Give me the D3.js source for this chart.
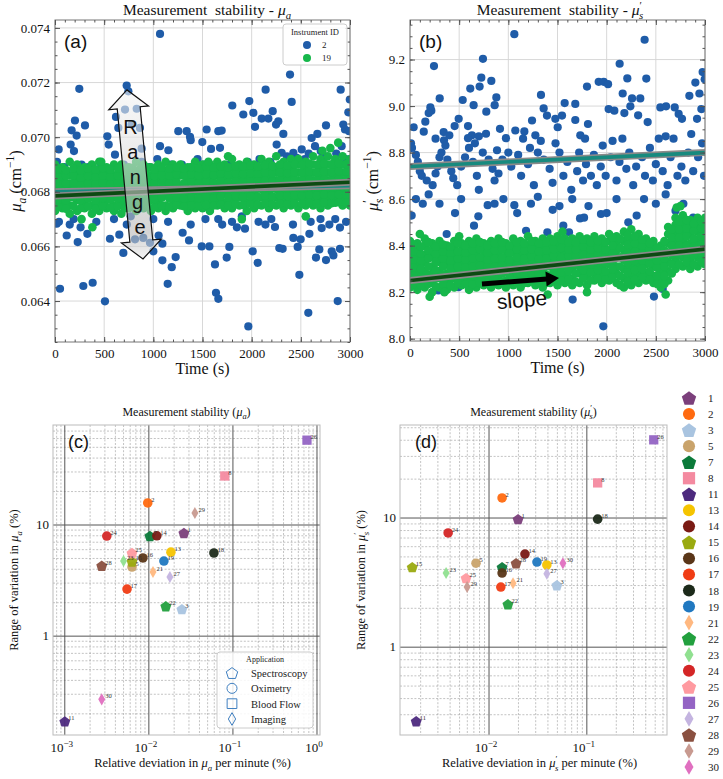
<!DOCTYPE html>
<html><head><meta charset="utf-8">
<script src="https://cdn.jsdelivr.net/npm/d3@7"></script>
<style>body{margin:0;background:#fff}</style>
</head><body>
<svg id="chart" width="723" height="779"></svg>
<script>
// ---------------- DATA ----------------
const timeTicks = [0, 500, 1000, 1500, 2000, 2500, 3000];
const instrumentIds = ["2", "19"];
// Instrument 2 (blue), mu_a over time [t (s), mu_a (cm^-1)]
const muaInstr2 = [
[1068,0.07378],[729,0.07189],[746,0.07168],[712,0.07101],[831,0.07104],[247,0.07177],[305,0.07043],[203,0.07061],[169,0.07025],[220,0.07006],
[159,0.06973],[193,0.06949],[620,0.07074],[644,0.07034],[780,0.07046],[864,0.07034],[532,0.07003],[546,0.06973],[610,0.06936],[881,0.06958],
[37,0.06955],[1068,0.06967],[1153,0.06952],[1254,0.07022],[1339,0.07022],[1373,0.07001],[1380,0.06989],[1498,0.06982],[1542,0.07028],[1587,0.06957],
[1661,0.07022],[1695,0.07024],[1678,0.06961],[1803,0.07116],[1915,0.07083],[1976,0.07132],[2017,0.07089],[2034,0.07038],[2102,0.07068],[2142,0.07174],
[2170,0.07068],[2214,0.07095],[2248,0.07046],[2271,0.07058],[2254,0.06973],[2322,0.07012],[2390,0.07229],[2407,0.07129],[2305,0.06943],[2424,0.06943],
[2458,0.06924],[2509,0.06955],[2610,0.06997],[2644,0.06967],[2668,0.07012],[2702,0.06949],[2756,0.07043],[2905,0.07174],[2932,0.07046],[2949,0.07028],
[2983,0.07091],[2998,0.07138],[2990,0.07022],[2915,0.06967],
[20,0.0691],[95,0.0689],[270,0.0690],[340,0.0689],[420,0.0688],[470,0.0690],[700,0.0690],[880,0.0691],[960,0.0689],[1180,0.0690],
[1290,0.0690],[1450,0.0692],[1520,0.0690],[1600,0.0689],[1760,0.0690],[1850,0.0689],[1960,0.0691],[2080,0.0692],[2190,0.0691],[2360,0.0693],
[2540,0.0692],[2580,0.0694],[2740,0.0693],[2860,0.0694],[2960,0.0692],[120,0.0687],[60,0.0686],[300,0.0686],[1040,0.0692],
[51,0.06445],[288,0.06455],[383,0.06467],[508,0.06399],[695,0.06576],[231,0.06616],[119,0.0664],[329,0.06646],[17,0.06683],[559,0.06628],
[654,0.06643],[814,0.06626],[898,0.06631],[1000,0.06582],[966,0.06613],[1054,0.0664],[1092,0.0661],[1092,0.06549],[1187,0.06524],[1146,0.06463],
[1227,0.06561],[1298,0.0665],[1363,0.06622],[1492,0.066],[1570,0.066],[1627,0.06534],[1637,0.0643],[1661,0.06408],[1746,0.06559],[1773,0.06598],
[2010,0.06582],[2061,0.0654],[1966,0.06307],[1932,0.06665],[2237,0.06671],[2281,0.06594],[2315,0.06591],[2424,0.06631],[2468,0.06598],[2485,0.06496],
[2498,0.06626],[2587,0.06646],[2576,0.06357],[2688,0.06589],[2654,0.06559],[2712,0.06667],[2756,0.0655],[2814,0.06582],[2831,0.06567],[2875,0.064],
[2898,0.06591],[2898,0.06669],
[40,0.0669],[150,0.0668],[190,0.0670],[260,0.0667],[420,0.0669],[600,0.0670],[730,0.0668],[770,0.0671],[1000,0.0670],[1150,0.0669],
[1380,0.0668],[1530,0.0670],[1700,0.0668],[1800,0.0669],[1850,0.0667],[2070,0.0669],[2200,0.0670],[2420,0.0668],[2600,0.0669],[2790,0.0668],
[2850,0.0670],[2960,0.0669],[1660,0.0670],[1900,0.0671],[2140,0.0668],[2700,0.0670]
];
// Instrument 19 (green), mu_a: [t, [values at that time]]
const muaInstr19 = [
[0,[0.0673,0.0676,0.0679,0.0681,0.0684,0.0687,0.0690]],[75,[0.0674,0.0676,0.0678,0.0682,0.0685,0.0687,0.0689]],
[150,[0.0672,0.0675,0.0678,0.0681,0.0683,0.0686,0.0691]],[225,[0.0673,0.0677,0.0680,0.0682,0.0685,0.0688,0.0690]],
[300,[0.0674,0.0676,0.0679,0.0681,0.0684,0.0686,0.0689]],[375,[0.0672,0.0675,0.0678,0.0682,0.0684,0.0687,0.0690]],
[450,[0.0673,0.0676,0.0679,0.0681,0.0685,0.0688,0.0691]],[525,[0.0674,0.0677,0.0680,0.0682,0.0684,0.0687,0.0689]],
[600,[0.0673,0.0675,0.0678,0.0681,0.0684,0.0686,0.0690]],[675,[0.0672,0.0676,0.0679,0.0682,0.0685,0.0688,0.0690]],
[750,[0.0674,0.0677,0.0679,0.0681,0.0684,0.0687,0.0689]],[825,[0.0673,0.0675,0.0678,0.0682,0.0685,0.0687,0.0691]],
[900,[0.0674,0.0676,0.0680,0.0683,0.0685,0.0688,0.0690]],[975,[0.0673,0.0677,0.0679,0.0682,0.0684,0.0686,0.0689]],
[1050,[0.0674,0.0676,0.0678,0.0681,0.0685,0.0688,0.0690]],[1125,[0.0673,0.0675,0.0679,0.0682,0.0684,0.0687,0.0691]],
[1200,[0.0674,0.0677,0.0680,0.0683,0.0685,0.0688,0.0690]],[1275,[0.0675,0.0677,0.0679,0.0682,0.0686,0.0688,0.0690]],
[1350,[0.0673,0.0676,0.0679,0.0681,0.0684,0.0687,0.0689]],[1425,[0.0674,0.0677,0.0680,0.0683,0.0685,0.0688,0.0691]],
[1500,[0.0674,0.0676,0.0679,0.0682,0.0684,0.0687,0.0690]],[1575,[0.0673,0.0677,0.0680,0.0682,0.0685,0.0688,0.0690]],
[1650,[0.0675,0.0677,0.0679,0.0683,0.0686,0.0688,0.0691]],[1725,[0.0674,0.0676,0.0680,0.0682,0.0685,0.0687,0.0690]],
[1800,[0.0674,0.0677,0.0680,0.0683,0.0686,0.0689,0.0692]],[1875,[0.0675,0.0678,0.0680,0.0682,0.0685,0.0688,0.0690]],
[1950,[0.0673,0.0676,0.0679,0.0683,0.0686,0.0689,0.0691]],[2025,[0.0674,0.0677,0.0680,0.0683,0.0685,0.0688,0.0690]],
[2100,[0.0675,0.0678,0.0681,0.0684,0.0686,0.0689,0.0692]],[2175,[0.0674,0.0677,0.0680,0.0682,0.0685,0.0688,0.0691]],
[2250,[0.0675,0.0678,0.0681,0.0684,0.0687,0.0689,0.0693]],[2325,[0.0674,0.0677,0.0680,0.0683,0.0686,0.0688,0.0691]],
[2400,[0.0675,0.0677,0.0680,0.0683,0.0686,0.0689,0.0692]],[2475,[0.0674,0.0678,0.0681,0.0684,0.0687,0.0690,0.0692]],
[2550,[0.0675,0.0677,0.0680,0.0683,0.0685,0.0688,0.0691]],[2625,[0.0675,0.0678,0.0681,0.0684,0.0687,0.0690,0.0693]],
[2700,[0.0674,0.0677,0.0680,0.0683,0.0686,0.0689,0.0692]],[2775,[0.0675,0.0678,0.0681,0.0684,0.0687,0.0690,0.0693]],
[2850,[0.0676,0.0678,0.0681,0.0684,0.0686,0.0689,0.0692]],[2925,[0.0675,0.0678,0.0681,0.0684,0.0687,0.0690,0.0693]],
[3000,[0.0675,0.0677,0.0680,0.0683,0.0686,0.0689,0.0692]],
[37,[0.06745,0.06772,0.06801,0.06828,0.06855,0.06884]],[112,[0.06738,0.06768,0.06796,0.06830,0.06858,0.06880]],
[187,[0.06748,0.06779,0.06805,0.06833,0.06861,0.06886]],[262,[0.06741,0.06770,0.06798,0.06826,0.06852,0.06879]],
[337,[0.06746,0.06776,0.06803,0.06831,0.06858,0.06885]],[412,[0.06739,0.06769,0.06799,0.06829,0.06856,0.06882]],
[487,[0.06748,0.06777,0.06804,0.06832,0.06859,0.06887]],[562,[0.06743,0.06772,0.06800,0.06827,0.06855,0.06881]],
[637,[0.06746,0.06775,0.06803,0.06833,0.06860,0.06886]],[712,[0.06740,0.06771,0.06798,0.06828,0.06854,0.06880]],
[787,[0.06749,0.06778,0.06806,0.06834,0.06861,0.06888]],[862,[0.06744,0.06773,0.06801,0.06830,0.06857,0.06884]],
[937,[0.06750,0.06779,0.06807,0.06835,0.06862,0.06889]],[1012,[0.06745,0.06774,0.06802,0.06831,0.06858,0.06883]],
[1087,[0.06749,0.06778,0.06805,0.06833,0.06861,0.06888]],[1162,[0.06746,0.06776,0.06804,0.06832,0.06859,0.06886]],
[1237,[0.06752,0.06781,0.06808,0.06836,0.06863,0.06890]],[1312,[0.06747,0.06775,0.06803,0.06831,0.06860,0.06885]],
[1387,[0.06751,0.06780,0.06808,0.06837,0.06864,0.06891]],[1462,[0.06749,0.06777,0.06805,0.06834,0.06861,0.06887]],
[1537,[0.06752,0.06782,0.06810,0.06838,0.06865,0.06892]],[1612,[0.06750,0.06779,0.06807,0.06835,0.06862,0.06889]],
[1687,[0.06754,0.06783,0.06811,0.06839,0.06866,0.06893]],[1762,[0.06751,0.06780,0.06808,0.06836,0.06864,0.06890]],
[1837,[0.06755,0.06784,0.06812,0.06840,0.06867,0.06895]],[1912,[0.06752,0.06781,0.06810,0.06838,0.06865,0.06892]],
[1987,[0.06756,0.06785,0.06813,0.06841,0.06868,0.06896]],[2062,[0.06753,0.06782,0.06811,0.06839,0.06866,0.06893]],
[2137,[0.06757,0.06786,0.06814,0.06842,0.06870,0.06898]],[2212,[0.06754,0.06783,0.06812,0.06840,0.06868,0.06895]],
[2287,[0.06758,0.06787,0.06815,0.06844,0.06871,0.06900]],[2362,[0.06755,0.06785,0.06813,0.06841,0.06869,0.06896]],
[2437,[0.06759,0.06788,0.06817,0.06845,0.06873,0.06901]],[2512,[0.06756,0.06786,0.06814,0.06843,0.06870,0.06898]],
[2587,[0.06760,0.06789,0.06818,0.06846,0.06874,0.06903]],[2662,[0.06757,0.06787,0.06815,0.06844,0.06872,0.06899]],
[2737,[0.06761,0.06790,0.06819,0.06847,0.06875,0.06904]],[2812,[0.06758,0.06788,0.06817,0.06845,0.06873,0.06901]],
[2887,[0.06762,0.06791,0.06820,0.06848,0.06876,0.06905]],[2962,[0.06759,0.06789,0.06818,0.06846,0.06874,0.06902]],
[2880,[0.0698]],[2800,[0.0696]],[2720,[0.0695]],[1560,[0.0691]],[1760,[0.0693]],[380,[0.0667]],[470,[0.0691]],[270,[0.0670]],[1900,[0.0670]],[2550,[0.0671]]
];
// Instrument 2 (blue), mu_s' over time
const musInstr2 = [
[1061,9.309],[2386,9.285],[244,9.172],[742,9.203],[725,9.122],[708,9.084],[827,9.108],[613,9.075],[302,9.033],[207,8.994],
[217,8.98],[190,8.97],[536,9.026],[647,9.004],[878,9.037],[861,9.004],[776,8.976],[773,8.881],[156,8.933],[37,8.909],
[140,8.89],[342,8.888],[400,8.874],[454,8.914],[346,8.853],[590,8.914],[495,8.945],[630,8.874],[590,8.862],[660,8.84],
[885,8.81],[915,8.902],[976,8.862],[1071,8.895],[1163,8.891],[1241,8.938],[1332,9.048],[1359,8.99],[1393,8.959],[1275,8.874],
[1478,8.945],[1502,8.909],[1546,8.959],[1573,9.013],[1681,9.009],[1681,8.94],[1732,8.874],[1800,9.084],[1810,8.923],[1919,9.104],
[1970,9.104],[2014,9.094],[2020,8.987],[2078,8.98],[2132,9.182],[2163,9.054],[2180,8.97],[2210,9.119],[2241,8.999],[2258,9.033],
[2342,9.033],[2320,8.96],[2403,9.118],[2417,8.931],[2546,8.994],[2604,8.999],[2692,8.994],[2732,8.966],[2766,8.945],[2841,9.044],
[2902,9.101],[2943,9.054],[2976,9.146],[2997,9.115],[2963,8.987],[2919,8.945],[2860,8.88],
[10,8.84],[20,8.82],[60,8.79],[80,8.76],[100,8.72],[120,8.70],[170,8.68],[230,8.66],[260,8.71],[280,8.74],
[300,8.78],[320,8.80],[360,8.83],[380,8.77],[420,8.72],[440,8.69],[480,8.66],[520,8.74],[560,8.78],[600,8.82],
[640,8.76],[680,8.70],[700,8.64],[740,8.80],[800,8.77],[840,8.73],[860,8.68],[900,8.71],[940,8.77],[1000,8.80],
[1030,8.74],[1100,8.79],[1130,8.70],[1200,8.75],[1220,8.82],[1260,8.66],[1300,8.80],[1330,8.85],[1360,8.77],[1420,8.73],
[1450,8.67],[1520,8.80],[1560,8.70],[1600,8.76],[1640,8.64],[1700,8.72],[1720,8.80],[1760,8.68],[1790,8.75],[1840,8.70],
[1870,8.79],[1900,8.66],[1940,8.74],[1990,8.70],[2040,8.78],[2060,8.85],[2100,8.68],[2130,8.76],[2200,8.73],[2230,8.80],
[2270,8.66],[2300,8.74],[2360,8.78],[2390,8.70],[2440,8.82],[2470,8.68],[2500,8.75],[2530,8.86],[2570,8.72],[2620,8.66],
[2650,8.78],[2680,8.86],[2720,8.70],[2760,8.74],[2800,8.68],[2830,8.80],[2880,8.72],[2930,8.78],[2970,8.84],[2990,8.70],
[1150,8.86],[1480,8.84],[1960,8.83],[2160,8.86],[700,8.87],[260,8.86],[2600,8.87],[1780,8.86],
[17,8.529],[60,8.60],[130,8.58],[190,8.62],[373,8.45],[458,8.54],[520,8.60],[651,8.486],[695,8.526],[790,8.574],
[860,8.58],[1061,8.574],[1090,8.54],[1180,8.464],[1230,8.58],[1397,8.457],[1451,8.554],[1520,8.57],[1559,8.486],[1617,8.457],
[1729,8.517],[1770,8.52],[1815,8.57],[1942,8.536],[2000,8.54],[2220,8.50],[2305,8.529],[2500,8.58],[2700,8.55],[2780,8.58],
[2880,8.52],[300,8.58],[950,8.60],[1300,8.61],[2380,8.60],[2100,8.60],[2600,8.62],[1650,8.60],
[1654,8.168],[2481,8.181],[1966,8.053],[2570,8.214],[492,8.221],[288,8.207],[2824,8.324],[2800,8.46]
];
// Instrument 19 (green), mu_s'
const musInstr19 = [
[0,[8.22,8.26,8.29,8.32,8.36,8.39,8.42]],[75,[8.21,8.25,8.28,8.32,8.35,8.38,8.41]],[150,[8.22,8.25,8.29,8.33,8.36,8.40,8.43]],
[225,[8.20,8.24,8.28,8.31,8.35,8.38,8.41]],[300,[8.22,8.26,8.29,8.33,8.36,8.39,8.42]],[375,[8.21,8.25,8.28,8.32,8.35,8.38,8.40]],
[450,[8.22,8.26,8.30,8.33,8.36,8.39,8.42]],[525,[8.23,8.26,8.29,8.32,8.35,8.38,8.41]],[600,[8.21,8.25,8.29,8.33,8.36,8.39,8.42]],
[675,[8.22,8.26,8.30,8.33,8.37,8.40,8.43]],[750,[8.23,8.26,8.29,8.32,8.35,8.38,8.41]],[825,[8.22,8.25,8.29,8.33,8.36,8.39,8.42]],
[900,[8.23,8.26,8.30,8.33,8.36,8.40,8.43]],[975,[8.22,8.25,8.29,8.32,8.35,8.38,8.41]],[1050,[8.23,8.27,8.30,8.33,8.37,8.40,8.43]],
[1125,[8.22,8.26,8.29,8.33,8.36,8.39,8.42]],[1200,[8.24,8.27,8.30,8.34,8.37,8.40,8.44]],[1275,[8.23,8.26,8.30,8.33,8.36,8.39,8.42]],
[1350,[8.22,8.26,8.29,8.33,8.36,8.40,8.43]],[1425,[8.24,8.27,8.31,8.34,8.37,8.40,8.43]],[1500,[8.23,8.27,8.30,8.33,8.37,8.41,8.44]],
[1575,[8.24,8.27,8.31,8.34,8.37,8.40,8.43]],[1650,[8.23,8.26,8.30,8.34,8.37,8.40,8.43]],[1725,[8.24,8.28,8.31,8.34,8.38,8.41,8.44]],
[1800,[8.23,8.27,8.30,8.34,8.37,8.40,8.43]],[1875,[8.25,8.28,8.31,8.35,8.38,8.41,8.44]],[1950,[8.24,8.27,8.31,8.34,8.37,8.40,8.43]],
[2025,[8.25,8.28,8.32,8.35,8.38,8.42,8.45]],[2100,[8.24,8.28,8.31,8.35,8.38,8.41,8.44]],[2175,[8.22,8.26,8.30,8.34,8.38,8.42,8.46]],
[2250,[8.23,8.27,8.31,8.35,8.39,8.43,8.47]],[2325,[8.24,8.28,8.32,8.36,8.39,8.42,8.45]],[2400,[8.25,8.28,8.32,8.35,8.38,8.41,8.43]],
[2475,[8.24,8.27,8.31,8.34,8.37,8.40,8.42]],[2550,[8.22,8.25,8.29,8.32,8.35,8.38,8.40]],[2625,[8.25,8.29,8.33,8.37,8.41,8.45,8.48]],
[2700,[8.30,8.34,8.38,8.42,8.45,8.49,8.52]],[2775,[8.31,8.35,8.38,8.42,8.46,8.49,8.53]],[2850,[8.30,8.34,8.38,8.41,8.45,8.48,8.51]],
[2925,[8.31,8.35,8.39,8.42,8.46,8.49,8.52]],[3000,[8.32,8.35,8.39,8.43,8.46,8.49,8.52]],
[37,[8.235,8.27,8.305,8.34,8.375,8.405]],[112,[8.23,8.265,8.30,8.335,8.365,8.395]],[187,[8.235,8.27,8.31,8.345,8.38,8.415]],
[262,[8.225,8.26,8.295,8.33,8.365,8.395]],[337,[8.235,8.275,8.31,8.345,8.375,8.405]],[412,[8.23,8.265,8.30,8.335,8.37,8.395]],
[487,[8.24,8.275,8.31,8.345,8.375,8.41]],[562,[8.235,8.27,8.305,8.34,8.37,8.40]],[637,[8.235,8.27,8.31,8.345,8.38,8.41]],
[712,[8.24,8.275,8.315,8.35,8.385,8.415]],[787,[8.24,8.275,8.31,8.34,8.37,8.40]],[862,[8.235,8.27,8.31,8.345,8.38,8.41]],
[937,[8.245,8.28,8.315,8.35,8.385,8.415]],[1012,[8.235,8.27,8.305,8.34,8.37,8.40]],[1087,[8.245,8.285,8.315,8.35,8.385,8.415]],
[1162,[8.24,8.275,8.31,8.345,8.38,8.41]],[1237,[8.255,8.285,8.32,8.355,8.385,8.42]],[1312,[8.24,8.28,8.315,8.345,8.375,8.41]],
[1387,[8.24,8.275,8.31,8.345,8.38,8.415]],[1462,[8.255,8.29,8.325,8.355,8.385,8.42]],[1537,[8.25,8.285,8.315,8.35,8.39,8.425]],
[1612,[8.255,8.29,8.325,8.355,8.385,8.415]],[1687,[8.245,8.28,8.32,8.355,8.385,8.415]],[1762,[8.26,8.295,8.325,8.36,8.395,8.425]],
[1837,[8.25,8.285,8.32,8.355,8.385,8.415]],[1912,[8.26,8.295,8.33,8.36,8.39,8.42]],[1987,[8.255,8.29,8.325,8.355,8.385,8.415]],
[2062,[8.265,8.30,8.335,8.365,8.40,8.435]],[2137,[8.23,8.27,8.31,8.35,8.39,8.43]],[2212,[8.245,8.285,8.325,8.365,8.405,8.445]],
[2287,[8.255,8.295,8.335,8.375,8.41,8.44]],[2362,[8.265,8.30,8.335,8.37,8.40,8.425]],[2437,[8.255,8.29,8.325,8.355,8.385,8.41]],
[2512,[8.235,8.27,8.305,8.335,8.365,8.39]],[2587,[8.235,8.27,8.31,8.345,8.38,8.42]],[2662,[8.28,8.32,8.36,8.40,8.435,8.47]],
[2737,[8.32,8.36,8.40,8.435,8.47,8.505]],[2812,[8.33,8.365,8.40,8.44,8.475,8.51]],[2887,[8.32,8.36,8.395,8.43,8.465,8.495]],
[2962,[8.33,8.37,8.405,8.44,8.475,8.505]],
[2712,[8.564]],[1550,[8.46]],[100,[8.45]],[500,[8.44]],[200,[8.18]],[350,[8.20]],[1400,[8.19]],[2600,[8.19]],[2750,[8.57]],[1800,[8.20]]
];
// linear fits [value at t=0, value at t=3000]
const fitMuaInstr2 = [0.06800, 0.06822];
const fitMuaInstr19 = [0.06785, 0.06835];
const fitMusInstr2 = [8.74, 8.80];
const fitMusInstr19 = [8.25, 8.385];
// annotations (data coordinates)
const rangeArrow = [[732, 0.07173], [895, 0.06554]];
const rangeLetters = ["R", "a", "n", "g", "e"];
const slopeArrow = [[732, 8.235], [1515, 8.261]];
const slopeText = [1139, 8.166];

// Panels (c), (d)
const deviceIds = [1,2,3,5,7,8,11,13,14,15,16,17,18,19,21,22,23,24,25,26,27,28,29,30];
const deviceShapes = ["Spectroscopy","Oximetry","Spectroscopy","Oximetry","Spectroscopy","Blood Flow","Spectroscopy","Oximetry","Oximetry","Spectroscopy",
  "Oximetry","Oximetry","Oximetry","Oximetry","Imaging","Spectroscopy","Imaging","Oximetry","Spectroscopy","Blood Flow","Imaging","Spectroscopy","Imaging","Imaging"];
const deviceColors = ["#7b3f7b","#ff6a10","#a9c4e0","#c9a36b","#0b7a3a","#f48aa0","#4d2a7e","#f5c400","#7a1a14","#9aaa10",
  "#5a3618","#f03c14","#1c2a1a","#2078c0","#ffb880","#22a03e","#90e090","#d42626","#ff9aa0","#9464c4","#c4b4e0","#8a5040","#c89a90","#e070c0"];
const muaDeviation = [0.0261,0.0097,0.0247,0.0063,0.0103,0.080,0.001,0.0183,0.01245,0.0063,0.0085,0.0055,0.0594,0.0151,0.0112,0.0159,0.0050,0.00316,0.0063,0.76,0.0178,0.00275,0.0353,0.00275];
const muaRange = [8.47,15.8,1.75,4.19,7.96,27.6,0.171,5.7,8.0,4.7,5.05,2.65,5.6,4.74,3.78,1.86,4.74,7.96,5.6,58,3.4,4.3,12.8,0.27];
const musDeviation = [0.0198,0.0136,0.0494,0.00736,0.0136,0.129,0.0018,0.039,0.0233,0.00164,0.0136,0.0132,0.129,0.0309,0.0176,0.0156,0.00364,0.00382,0.00582,0.483,0.039,0.0189,0.00597,0.0569];
const musRange = [9.8,14.3,3.02,4.47,4.17,18.7,0.267,4.33,5.26,4.17,3.75,2.92,9.8,4.56,3.13,2.15,3.75,7.66,3.43,40.3,3.7,4.47,2.92,4.47];
const applications = ["Spectroscopy","Oximetry","Blood Flow","Imaging"];

// ---------------- DRAWING ----------------
const svg = d3.select("#chart");
const SERIF = "'Liberation Serif','Times New Roman',serif";
const SANS = "'Liberation Sans','DejaVu Sans',Arial,sans-serif";
const BLUE = "#1f5ca8", GREEN = "#16b74a", TEAL = "#178a7e", DKGREEN = "#0c4a12";
const defs = svg.append("defs");

function rich(t, parts, fs){
  let cur = 0;
  parts.forEach(p => {
    const target = p.sub ? fs*0.28 : p.sup ? -fs*0.4 : 0;
    const ts = t.append("tspan").text(p.t).attr("dy", target - cur);
    if (p.i) ts.attr("font-style", "italic");
    if (p.sub || p.sup) ts.attr("font-size", fs*0.7);
    if (p.dx) ts.attr("dx", p.dx);
    cur = target;
  });
  return t;
}

function timePanel(p, id, y, yMajorN, yMinorN, fmt, blue, green, fitBlue, fitGreen){
  const x = d3.scaleLinear([0, 3000], [p.l, p.r]);
  const g = svg.append("g");
  defs.append("clipPath").attr("id", "clip" + id).append("rect")
    .attr("x", p.l).attr("y", p.t).attr("width", p.r - p.l).attr("height", p.b - p.t);
  const yMaj = y.ticks(yMajorN);
  g.append("g").selectAll("line").data(timeTicks).join("line")
    .attr("x1", d => x(d)).attr("x2", d => x(d)).attr("y1", p.t).attr("y2", p.b)
    .attr("stroke", "#d4d4d4").attr("stroke-width", 0.9);
  g.append("g").selectAll("line").data(yMaj).join("line")
    .attr("x1", p.l).attr("x2", p.r).attr("y1", d => y(d)).attr("y2", d => y(d))
    .attr("stroke", "#d4d4d4").attr("stroke-width", 0.9);
  const pts = g.append("g").attr("clip-path", `url(#clip${id})`);
  pts.append("g").selectAll("circle").data(blue).join("circle")
    .attr("cx", d => x(d[0])).attr("cy", d => y(d[1])).attr("r", 4.1).attr("fill", BLUE);
  const gflat = green.flatMap(([t, vs]) => vs.map(v => [t, v]));
  pts.append("g").selectAll("circle").data(gflat).join("circle")
    .attr("cx", d => x(d[0])).attr("cy", d => y(d[1])).attr("r", 4.3).attr("fill", GREEN);
  [[fitBlue, TEAL], [fitGreen, DKGREEN]].forEach(([f, c]) => {
    const line = d3.line().x(d => x(d[0])).y(d => y(d[1]));
    const dat = [[0, f[0]], [3000, f[1]]];
    pts.append("path").attr("d", line(dat)).attr("stroke", "#8a8a8a").attr("stroke-width", 7).attr("fill", "none");
    pts.append("path").attr("d", line(dat)).attr("stroke", c).attr("stroke-width", 3.6).attr("fill", "none");
  });
  g.append("rect").attr("x", p.l).attr("y", p.t).attr("width", p.r - p.l).attr("height", p.b - p.t)
    .attr("fill", "none").attr("stroke", "#777").attr("stroke-width", 1);
  const style = s => s.attr("font-family", SERIF).attr("font-size", 13).attr("color", "#555")
    .call(s => s.select(".domain").remove()).call(s => s.selectAll("text").attr("fill", "#111"));
  g.append("g").attr("transform", `translate(0,${p.b})`)
    .call(d3.axisBottom(x).tickValues(timeTicks).tickFormat(d3.format("d")).tickSize(-5).tickPadding(7)).call(style);
  g.append("g").attr("transform", `translate(0,${p.b})`)
    .call(d3.axisBottom(x).tickValues(x.ticks(30)).tickFormat("").tickSize(-2.5)).call(style);
  g.append("g").attr("transform", `translate(0,${p.t})`)
    .call(d3.axisTop(x).tickValues(timeTicks).tickFormat("").tickSize(-5)).call(style);
  g.append("g").attr("transform", `translate(0,${p.t})`)
    .call(d3.axisTop(x).tickValues(x.ticks(30)).tickFormat("").tickSize(-2.5)).call(style);
  g.append("g").attr("transform", `translate(${p.l},0)`)
    .call(d3.axisLeft(y).tickValues(yMaj).tickFormat(d3.format(fmt)).tickSize(-5).tickPadding(5)).call(style);
  g.append("g").attr("transform", `translate(${p.l},0)`)
    .call(d3.axisLeft(y).tickValues(y.ticks(yMinorN)).tickFormat("").tickSize(-2.5)).call(style);
  g.append("g").attr("transform", `translate(${p.r},0)`)
    .call(d3.axisRight(y).tickValues(yMaj).tickFormat("").tickSize(-5)).call(style);
  g.append("g").attr("transform", `translate(${p.r},0)`)
    .call(d3.axisRight(y).tickValues(y.ticks(yMinorN)).tickFormat("").tickSize(-2.5)).call(style);
  g.append("text").attr("x", (p.l + p.r) / 2).attr("y", p.b + 32).attr("text-anchor", "middle")
    .attr("font-family", SERIF).attr("font-size", 16).attr("fill", "#111").text("Time (s)");
  return {x, g};
}

const pA = {l:55, r:350, t:20, b:342};
const yA = d3.scaleLinear([0.0625, 0.07429], [pA.b, pA.t]);
const A = timePanel(pA, "a", yA, 6, 24, ".3f", muaInstr2, muaInstr19, fitMuaInstr2, fitMuaInstr19);
const pB = {l:410, r:705, t:20, b:341};
const yB = d3.scaleLinear([7.99, 9.37], [pB.b, pB.t]);
const B = timePanel(pB, "b", yB, 7, 28, ".1f", musInstr2, musInstr19, fitMusInstr2, fitMusInstr19);

rich(svg.append("text").attr("x", 207).attr("y", 15).attr("text-anchor", "middle")
  .attr("font-family", SERIF).attr("font-size", 15.5).attr("fill", "#111"),
  [{t:"Measurement\u00a0 stability - "}, {t:"μ", i:1}, {t:"a", i:1, sub:1}], 15.5);
rich(svg.append("text").attr("x", 560).attr("y", 15).attr("text-anchor", "middle")
  .attr("font-family", SERIF).attr("font-size", 15.5).attr("fill", "#111"),
  [{t:"Measurement\u00a0 stability - "}, {t:"μ", i:1}, {t:"′", sup:1}, {t:"s", i:1, sub:1, dx:-3}], 15.5);
rich(svg.append("text").attr("transform", "translate(21,181) rotate(-90)").attr("text-anchor", "middle")
  .attr("font-family", SERIF).attr("font-size", 16.5).attr("fill", "#111"),
  [{t:"μ", i:1}, {t:"a", i:1, sub:1}, {t:"\u00a0(cm"}, {t:"−1", sup:1}, {t:")"}], 16.5);
rich(svg.append("text").attr("transform", "translate(378,181) rotate(-90)").attr("text-anchor", "middle")
  .attr("font-family", SERIF).attr("font-size", 16.5).attr("fill", "#111"),
  [{t:"μ", i:1}, {t:"′", sup:1}, {t:"s", i:1, sub:1, dx:-3}, {t:"\u00a0(cm"}, {t:"−1", sup:1}, {t:")"}], 16.5);
[["(a)", pA], ["(b)", pB]].forEach(([s, p]) => svg.append("text").attr("x", p.l + 9).attr("y", p.t + 28)
  .attr("font-family", SANS).attr("font-size", 19).attr("fill", "#111").text(s));

const lg = svg.append("g");
lg.append("rect").attr("x", 283).attr("y", 24).attr("width", 64).attr("height", 41).attr("rx", 3)
  .attr("fill", "#fff").attr("fill-opacity", 0.85).attr("stroke", "#ccc");
lg.append("text").attr("x", 315).attr("y", 35).attr("text-anchor", "middle").attr("font-family", SERIF)
  .attr("font-size", 8.5).attr("fill", "#222").text("Instrument ID");
const lgY = d3.scalePoint(instrumentIds, [45, 58]);
lg.selectAll("circle").data(instrumentIds).join("circle").attr("cx", 307).attr("cy", d => lgY(d)).attr("r", 4)
  .attr("fill", (d, i) => i ? GREEN : BLUE);
lg.selectAll("text.l").data(instrumentIds).join("text").attr("class", "l").attr("x", 322).attr("y", d => lgY(d) + 3)
  .attr("font-family", SERIF).attr("font-size", 9).attr("fill", "#222").text(d => d);

(function(){
  const p0 = [A.x(rangeArrow[0][0]), yA(rangeArrow[0][1])];
  const p1 = [A.x(rangeArrow[1][0]), yA(rangeArrow[1][1])];
  const dx = p1[0]-p0[0], dy = p1[1]-p0[1], L = Math.hypot(dx, dy);
  const ux = dx/L, uy = dy/L, nx = -uy, ny = ux;
  const pt = (s, n) => [p0[0]+ux*s+nx*n, p0[1]+uy*s+ny*n];
  const hl = 18, hw = 20, sw = 11.5;
  const poly = [pt(0,0), pt(hl,hw), pt(hl,sw), pt(L-hl,sw), pt(L-hl,hw), pt(L,0), pt(L-hl,-hw), pt(L-hl,-sw), pt(hl,-sw), pt(hl,-hw)];
  const gr = defs.append("linearGradient").attr("id", "rg").attr("gradientUnits", "userSpaceOnUse")
    .attr("x1", p0[0]).attr("y1", p0[1]).attr("x2", p1[0]).attr("y2", p1[1]);
  [[0,"#f4f4f4"],[0.35,"#e0e0e0"],[0.6,"#c4c4c4"],[0.85,"#b8b8b8"],[1,"#ececec"]].forEach(([o,c]) =>
    gr.append("stop").attr("offset", o).attr("stop-color", c));
  svg.append("path").attr("d", d3.line()(poly) + "Z").attr("fill", "url(#rg)").attr("fill-opacity", 0.6)
    .attr("stroke", "#111").attr("stroke-width", 1.2);
  const fr = d3.scalePoint(rangeLetters, [0.22, 0.81]);
  svg.selectAll("text.rl").data(rangeLetters).join("text").attr("class", "rl")
    .attr("x", d => p0[0] + dx*fr(d)).attr("y", d => p0[1] + dy*fr(d) + 7)
    .attr("text-anchor", "middle").attr("font-family", SANS).attr("font-size", 20).attr("fill", "#111").text(d => d);
})();

(function(){
  const p0 = [B.x(slopeArrow[0][0]), yB(slopeArrow[0][1])];
  const p1 = [B.x(slopeArrow[1][0]), yB(slopeArrow[1][1])];
  const dx = p1[0]-p0[0], dy = p1[1]-p0[1], L = Math.hypot(dx, dy);
  const ux = dx/L, uy = dy/L, nx = -uy, ny = ux;
  const hl = 13, hw = 7.5;
  const b = [p1[0]-ux*hl, p1[1]-uy*hl];
  svg.append("line").attr("x1", p0[0]).attr("y1", p0[1]).attr("x2", b[0]+ux).attr("y2", b[1]+uy)
    .attr("stroke", "#000").attr("stroke-width", 5);
  svg.append("path").attr("d", d3.line()([p1, [b[0]+nx*hw, b[1]+ny*hw], [b[0]-nx*hw, b[1]-ny*hw]]) + "Z").attr("fill", "#000");
  svg.append("text").attr("transform", `translate(${B.x(slopeText[0])},${yB(slopeText[1])}) rotate(-5)`)
    .attr("text-anchor", "middle").attr("dy", 7).attr("font-family", SANS).attr("font-size", 21).attr("fill", "#111").text("slope");
})();

function pentagon(){
  return {draw(ctx, size){
    const r = Math.sqrt(size / (2.5 * Math.sin(2*Math.PI/5)));
    for (let i = 0; i < 5; i++){
      const a = -Math.PI/2 + i*2*Math.PI/5;
      const px = r*Math.cos(a), py = r*Math.sin(a) + r*0.1;
      i ? ctx.lineTo(px, py) : ctx.moveTo(px, py);
    }
    ctx.closePath();
  }};
}
const shapeType = {"Spectroscopy": pentagon(), "Oximetry": d3.symbolCircle, "Blood Flow": d3.symbolSquare, "Imaging": d3.symbolDiamond};
const shapeSize = {"Spectroscopy": 78, "Oximetry": 72, "Blood Flow": 86, "Imaging": 42};
const isMajor = v => Math.abs(Math.log10(v) - Math.round(Math.log10(v))) < 1e-9;

function logPanel(p, x, y, xs, ys, letter, quant){
  const g = svg.append("g");
  defs.append("clipPath").attr("id", "clip" + letter).append("rect")
    .attr("x", p.l).attr("y", p.t).attr("width", p.r - p.l).attr("height", p.b - p.t);
  const xt = x.ticks(), yt = y.ticks();
  const gg = g.append("g");
  gg.selectAll("line.xm").data(xt.filter(v => !isMajor(v))).join("line").attr("class", "xm")
    .attr("x1", d => x(d)).attr("x2", d => x(d)).attr("y1", p.t).attr("y2", p.b)
    .attr("stroke", "#9a9a9a").attr("stroke-width", 0.6).attr("stroke-dasharray", "2,1.6");
  gg.selectAll("line.ym").data(yt.filter(v => !isMajor(v))).join("line").attr("class", "ym")
    .attr("x1", p.l).attr("x2", p.r).attr("y1", d => y(d)).attr("y2", d => y(d))
    .attr("stroke", "#9a9a9a").attr("stroke-width", 0.6).attr("stroke-dasharray", "2,1.6");
  gg.selectAll("line.xM").data(xt.filter(isMajor)).join("line").attr("class", "xM")
    .attr("x1", d => x(d)).attr("x2", d => x(d)).attr("y1", p.t).attr("y2", p.b)
    .attr("stroke", "#555").attr("stroke-width", 1);
  gg.selectAll("line.yM").data(yt.filter(isMajor)).join("line").attr("class", "yM")
    .attr("x1", p.l).attr("x2", p.r).attr("y1", d => y(d)).attr("y2", d => y(d))
    .attr("stroke", "#555").attr("stroke-width", 1);
  g.append("rect").attr("x", p.l).attr("y", p.t).attr("width", p.r - p.l).attr("height", p.b - p.t)
    .attr("fill", "none").attr("stroke", "#bbb").attr("stroke-width", 1);
  const xl = g.append("g").attr("font-family", SERIF).attr("font-size", 13).attr("fill", "#111");
  xt.filter(isMajor).forEach(v => {
    rich(xl.append("text").attr("x", x(v) - 3).attr("y", p.b + 17).attr("text-anchor", "middle"),
      [{t:"10"}, {t:(Math.round(Math.log10(v)) < 0 ? "−" : "") + Math.abs(Math.round(Math.log10(v))), sup:1}], 13);
  });
  yt.filter(isMajor).forEach(v => {
    xl.append("text").attr("x", p.l - 4).attr("y", y(v) + 4).attr("text-anchor", "end").text(d3.format("d")(v));
  });
  const mk = g.append("g").attr("clip-path", `url(#clip${letter})`);
  deviceIds.forEach((id, i) => {
    const s = deviceShapes[i];
    mk.append("path").attr("transform", `translate(${x(xs[i])},${y(ys[i])})`)
      .attr("d", d3.symbol(shapeType[s], shapeSize[s])()).attr("fill", deviceColors[i]).attr("fill-opacity", 0.95);
  });
  deviceIds.forEach((id, i) => {
    mk.append("text").attr("x", x(xs[i]) + 3.5).attr("y", y(ys[i]) - 1).attr("font-family", SERIF)
      .attr("font-size", 6.5).attr("fill", "#333").text(id);
  });
  g.append("text").attr("x", (p.l + p.r) / 2).attr("y", p.t - 9).attr("text-anchor", "middle").attr("font-family", SERIF)
    .attr("font-size", 12).attr("fill", "#111").call(t => rich(t, [{t:"Measurement stability ("}].concat(quant, [{t:")"}]), 12));
  g.append("text").attr("x", (p.l + p.r) / 2 + 6).attr("y", p.b + 32).attr("text-anchor", "middle").attr("font-family", SERIF)
    .attr("font-size", 12.5).attr("fill", "#111").call(t => rich(t, [{t:"Relative deviation in "}].concat(quant, [{t:" per minute (%)"}]), 12.5));
  g.append("text").attr("transform", `translate(${p.l - 35},${(p.t + p.b) / 2}) rotate(-90)`).attr("text-anchor", "middle")
    .attr("font-family", SERIF).attr("font-size", 12.5).attr("fill", "#111")
    .call(t => rich(t, [{t:"Range of variation in "}].concat(quant, [{t:" (%)"}]), 12.5));
  g.append("text").attr("x", p.l + 15).attr("y", p.t + 23).attr("font-family", SANS).attr("font-size", 18)
    .attr("fill", "#111").text("(" + letter + ")");
}
const pC = {l:53, r:320, t:425, b:735};
const xC = d3.scaleLog([0.000724, 1.086], [pC.l, pC.r]);
const yC = d3.scaleLog([0.129, 79.4], [pC.b, pC.t]);
logPanel(pC, xC, yC, muaDeviation, muaRange, "c", [{t:"μ", i:1}, {t:"a", i:1, sub:1}]);
const pD = {l:400, r:667, t:425, b:735};
const xD = d3.scaleLog([0.00123, 0.66], [pD.l, pD.r]);
const yD = d3.scaleLog([0.209, 52.5], [pD.b, pD.t]);
logPanel(pD, xD, yD, musDeviation, musRange, "d", [{t:"μ", i:1}, {t:"′", sup:1}, {t:"s", i:1, sub:1, dx:-2.5}]);

(function(){
  const g = svg.append("g");
  g.append("rect").attr("x", 217).attr("y", 652).attr("width", 96).attr("height", 76).attr("rx", 3)
    .attr("fill", "#fff").attr("fill-opacity", 0.85).attr("stroke", "#ccc");
  g.append("text").attr("x", 265).attr("y", 662).attr("text-anchor", "middle").attr("font-family", SERIF)
    .attr("font-size", 8).attr("fill", "#222").text("Application");
  const ly = d3.scalePoint(applications, [673, 719]);
  applications.forEach(a => {
    g.append("path").attr("transform", `translate(232,${ly(a)})`).attr("d", d3.symbol(shapeType[a], shapeSize[a] * 1.1)())
      .attr("fill", "none").attr("stroke", "#3f7fc0").attr("stroke-width", 1);
    g.append("text").attr("x", 251).attr("y", ly(a) + 4).attr("font-family", SERIF).attr("font-size", 10.5)
      .attr("fill", "#222").text(a);
  });
})();

(function(){
  const g = svg.append("g");
  const ly = d3.scalePoint(deviceIds, [398, 767]);
  const big = {"Spectroscopy": 135, "Oximetry": 115, "Blood Flow": 150, "Imaging": 70};
  deviceIds.forEach((id, i) => {
    const s = deviceShapes[i];
    g.append("path").attr("transform", `translate(689,${ly(id)})`).attr("d", d3.symbol(shapeType[s], big[s])())
      .attr("fill", deviceColors[i]);
    g.append("text").attr("x", 708).attr("y", ly(id) + 4).attr("font-family", SERIF).attr("font-size", 11)
      .attr("fill", "#222").text(id);
  });
})();
</script>
</body></html>
